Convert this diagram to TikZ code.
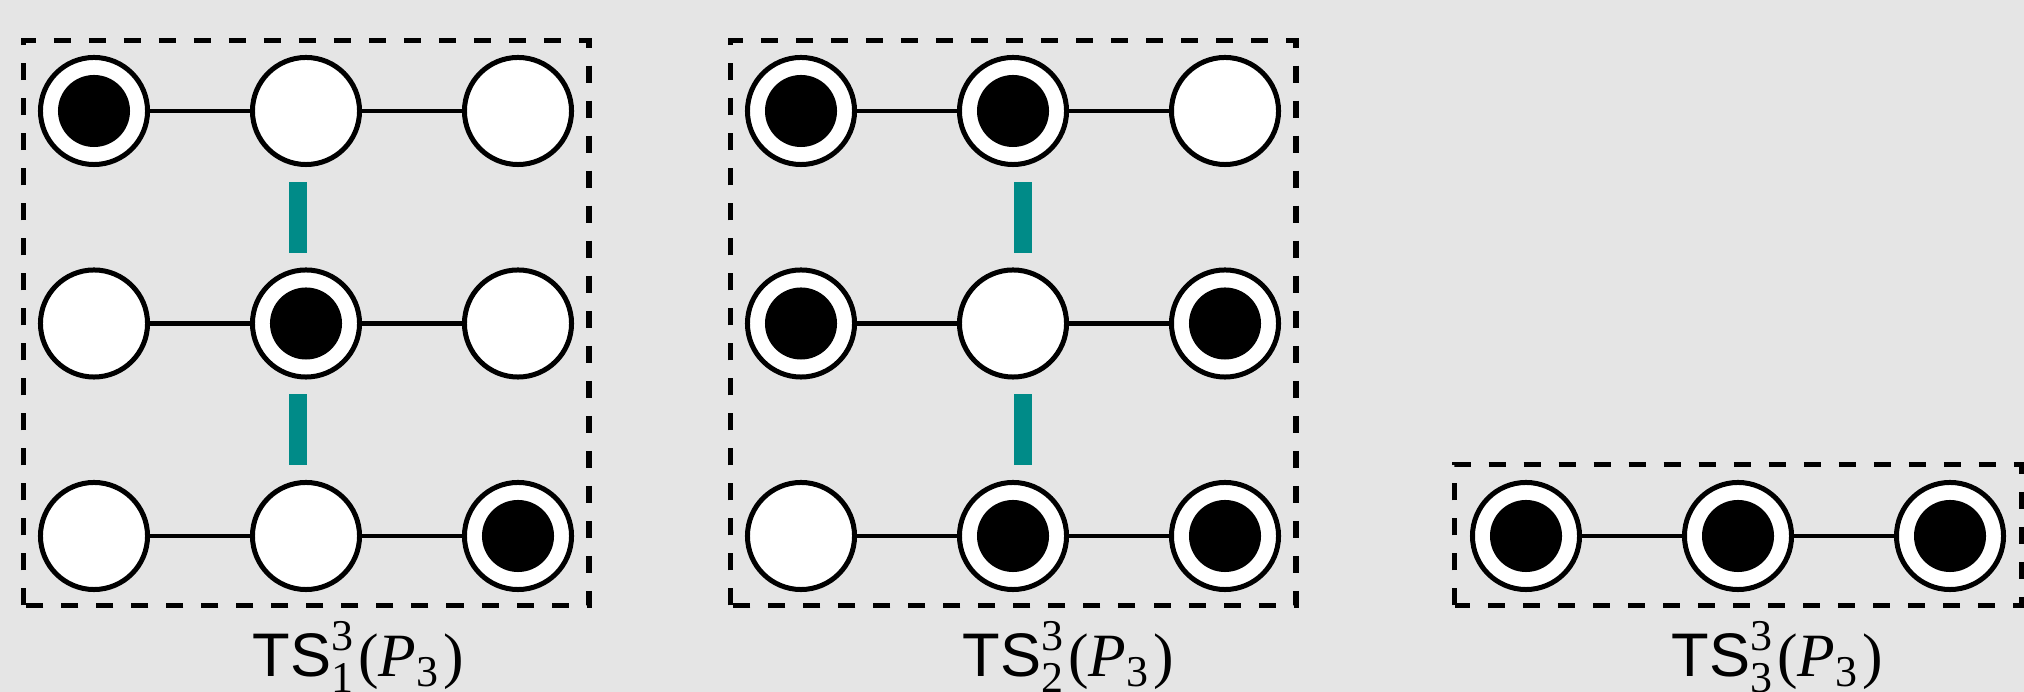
\documentclass[tikz,border=0pt]{standalone}
\usepackage{amsmath}
\usepackage{fontspec}
\setmainfont{Liberation Serif}
\setsansfont{Liberation Sans}
\usetikzlibrary{calc}
\definecolor{bg}{HTML}{E5E5E5}
\definecolor{tealbar}{RGB}{0,139,136}
\DeclareMathSizes{17.5}{17.5}{12.5}{10}
\newcommand{\tslab}[1]{\fontsize{17.5}{21}\selectfont$\text{\sffamily TS}^{\text{3}}_{\text{#1}}\mkern1mu\text{(}\text{\itshape P}_{\text{3}}\mkern1mu\text{)}$}
\begin{document}
\begin{tikzpicture}[x=0.01cm,y=-0.01cm,
  vtx/.style={circle,draw=black,line width=0.05cm,fill=white,minimum size=1.07cm,inner sep=0pt},
  tok/.style={vtx,path picture={\fill[black] (path picture bounding box.center) circle (0.36cm);}},
  edge/.style={line width=0.048cm},
  frame/.style={line width=0.055cm,dash pattern=on 0.17cm off 0.18cm},
  bar/.style={fill=tealbar},
  lab/.style={anchor=base west,inner sep=0pt}]
\fill[bg] (0,0) rectangle (2024,692);
\useasboundingbox (0,0) rectangle (2024,692);

% frames
\draw[frame] (23.5,605.5) rectangle (589,40.5);
\draw[frame] (730.5,605.5) rectangle (1296,40.5);
\draw[frame] (1454.5,605.5) rectangle (2021.5,464.5);

% box 1
\node[tok] (a11) at (94,111) {};
\node[vtx] (a12) at (306,111) {};
\node[vtx] (a13) at (518,111) {};
\node[vtx] (a21) at (94,323.5) {};
\node[tok] (a22) at (306,323.5) {};
\node[vtx] (a23) at (518,323.5) {};
\node[vtx] (a31) at (94,536) {};
\node[vtx] (a32) at (306,536) {};
\node[tok] (a33) at (518,536) {};
\foreach \r in {1,2,3}{
  \draw[edge] (a\r1) -- (a\r2);
  \draw[edge] (a\r2) -- (a\r3);
}
\fill[bar] ($(a12.south)+(-17.5,15)$) rectangle ($(a22.north)+(0.5,-14.5)$);
\fill[bar] ($(a22.south)+(-17.5,14.5)$) rectangle ($(a32.north)+(0.5,-15)$);

% box 2
\node[tok] (b11) at (801,111) {};
\node[tok] (b12) at (1013,111) {};
\node[vtx] (b13) at (1225,111) {};
\node[tok] (b21) at (801,323.5) {};
\node[vtx] (b22) at (1013,323.5) {};
\node[tok] (b23) at (1225,323.5) {};
\node[vtx] (b31) at (801,536) {};
\node[tok] (b32) at (1013,536) {};
\node[tok] (b33) at (1225,536) {};
\foreach \r in {1,2,3}{
  \draw[edge] (b\r1) -- (b\r2);
  \draw[edge] (b\r2) -- (b\r3);
}
\fill[bar] ($(b12.south)+(1,15)$) rectangle ($(b22.north)+(19,-14.5)$);
\fill[bar] ($(b22.south)+(1,14.5)$) rectangle ($(b32.north)+(19,-15)$);

% box 3
\node[tok] (c1) at (1526,536) {};
\node[tok] (c2) at (1738,536) {};
\node[tok] (c3) at (1950,536) {};
\draw[edge] (c1) -- (c2);
\draw[edge] (c2) -- (c3);

% labels
\node[lab] (l1) at (252,677) {\tslab{1}};
\node[lab] (l2) at (962,677) {\tslab{2}};
\node[lab] (l3) at (1671,677) {\tslab{3}};
\end{tikzpicture}
\end{document}
